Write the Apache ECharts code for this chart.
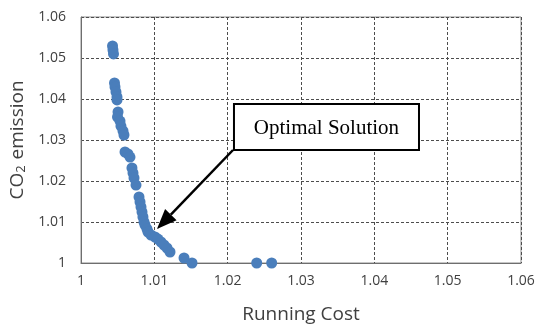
<!DOCTYPE html>
<html>
<head>
<meta charset="utf-8">
<script src="https://cdn.jsdelivr.net/npm/echarts@6/dist/echarts.min.js"></script>
<style>
  html, body { margin: 0; padding: 0; background: #fff; }
  #chart { width: 537px; height: 326px; }
</style>
</head>
<body>
<div id="chart"></div>
<script>
// Pareto front: running cost vs CO2 emission (both normalised)
const runningCost = [
  1.00430, 1.00436, 1.00443,
  1.00457, 1.00464, 1.00477, 1.00491, 1.00491,
  1.00505, 1.00498, 1.00532, 1.00545, 1.00573, 1.00586,
  1.00600, 1.00641, 1.00668,
  1.00695, 1.00709, 1.00723, 1.00750,
  1.00791, 1.00805, 1.00818, 1.00832, 1.00845, 1.00859,
  1.00873, 1.00900, 1.00914, 1.00955, 1.01009, 1.01050,
  1.01091, 1.01132, 1.01173, 1.01214,
  1.01405, 1.01514, 1.02396, 1.02600
];
const co2Emission = [
  1.05293, 1.05195, 1.05098,
  1.04390, 1.04293, 1.04171, 1.04049, 1.03976,
  1.03683, 1.03561, 1.03463, 1.03341, 1.03220, 1.03122,
  1.02707, 1.02659, 1.02585,
  1.02317, 1.02195, 1.02073, 1.01902,
  1.01610, 1.01488, 1.01366, 1.01244, 1.01122, 1.01000,
  1.00927, 1.00829, 1.00756, 1.00683, 1.00634, 1.00585,
  1.00512, 1.00439, 1.00366, 1.00268,
  1.00122, 1.00000, 1.00000, 1.00000
];
const xTicks = [1, 1.01, 1.02, 1.03, 1.04, 1.05, 1.06];
const yTicks = [1, 1.01, 1.02, 1.03, 1.04, 1.05, 1.06];

// Callout: box corners and arrow in data units
const calloutText = 'Optimal Solution';
const calloutTopLeft = [1.02086, 1.03878];
const calloutBottomRight = [1.04609, 1.02756];
const arrowFrom = [1.02073, 1.02756];
const arrowTo = [1.01036, 1.00829];

const points = runningCost.map((x, i) => [x, co2Emission[i]]);

const labelFont = { fontFamily: 'Open Sans', fontSize: 14, color: '#404040' };
const gridLine = { show: true, lineStyle: { color: '#4d4d4d', type: [3, 2], width: 1 } };
const axisLine = { show: true, lineStyle: { color: '#6e6e6e', width: 1 } };

const chart = echarts.init(document.getElementById('chart'), null, { renderer: 'canvas' });

chart.setOption({
  animation: false,
  backgroundColor: '#ffffff',
  grid: {
    left: 81, top: 17, right: 16, bottom: 63,
    outerBoundsMode: 'none', containLabel: false,
    show: true, borderColor: '#8c8c8c', borderWidth: 1, backgroundColor: 'transparent'
  },
  xAxis: {
    type: 'value',
    min: xTicks[0], max: xTicks[xTicks.length - 1], interval: 0.01,
    axisLine: axisLine, axisTick: { show: false }, splitLine: gridLine,
    axisLabel: Object.assign({ margin: 11, formatter: v => String(+v.toFixed(2)) }, labelFont),
    name: 'Running Cost', nameLocation: 'middle', nameGap: 42,
    nameTextStyle: { fontFamily: 'Open Sans', fontSize: 19, color: '#404040' }
  },
  yAxis: {
    type: 'value',
    min: yTicks[0], max: yTicks[yTicks.length - 1], interval: 0.01,
    axisLine: axisLine, axisTick: { show: false }, splitLine: gridLine,
    axisLabel: Object.assign({ margin: 15, formatter: v => String(+v.toFixed(2)) }, labelFont),
    name: '{a|CO}{s|2}{a| emission}', nameLocation: 'middle', nameGap: 52, nameRotate: 90,
    nameTextStyle: {
      rich: {
        a: { fontFamily: 'Open Sans', fontSize: 19, color: '#404040' },
        s: { fontFamily: 'Open Sans', fontSize: 13, color: '#404040', verticalAlign: 'bottom', padding: [5, 1, 0, 0] }
      }
    }
  },
  series: [{
    type: 'scatter',
    data: points,
    symbol: 'circle',
    symbolSize: 11,
    clip: false,
    z: 10,
    itemStyle: { color: '#4a7ebb', opacity: 1 }
  }]
});

// Draw the callout box and arrow at pixel positions derived from data units
function px(p) { return chart.convertToPixel({ gridIndex: 0 }, p); }
const tl = px(calloutTopLeft), br = px(calloutBottomRight);
const a0 = px(arrowFrom), a1 = px(arrowTo);
const ang = Math.atan2(a1[1] - a0[1], a1[0] - a0[0]);
const headLen = 20, headHalf = 8;
const base = [a1[0] - headLen * Math.cos(ang), a1[1] - headLen * Math.sin(ang)];
const nx = -Math.sin(ang), ny = Math.cos(ang);

chart.setOption({
  graphic: [
    {
      type: 'line', z: 100,
      shape: { x1: a0[0], y1: a0[1], x2: base[0], y2: base[1] },
      style: { stroke: '#000', lineWidth: 2.5 }
    },
    {
      type: 'polygon', z: 100,
      shape: { points: [a1, [base[0] + nx * headHalf, base[1] + ny * headHalf], [base[0] - nx * headHalf, base[1] - ny * headHalf]] },
      style: { fill: '#000' }
    },
    {
      type: 'rect', z: 101,
      shape: { x: tl[0], y: tl[1], width: br[0] - tl[0], height: br[1] - tl[1] },
      style: { fill: '#fff', stroke: '#000', lineWidth: 2 }
    },
    {
      type: 'text', z: 102,
      x: (tl[0] + br[0]) / 2, y: (tl[1] + br[1]) / 2 + 1,
      style: {
        text: calloutText, fontFamily: 'Liberation Serif', fontSize: 21, fill: '#000',
        align: 'center', verticalAlign: 'middle'
      }
    }
  ]
});
</script>
</body>
</html>
